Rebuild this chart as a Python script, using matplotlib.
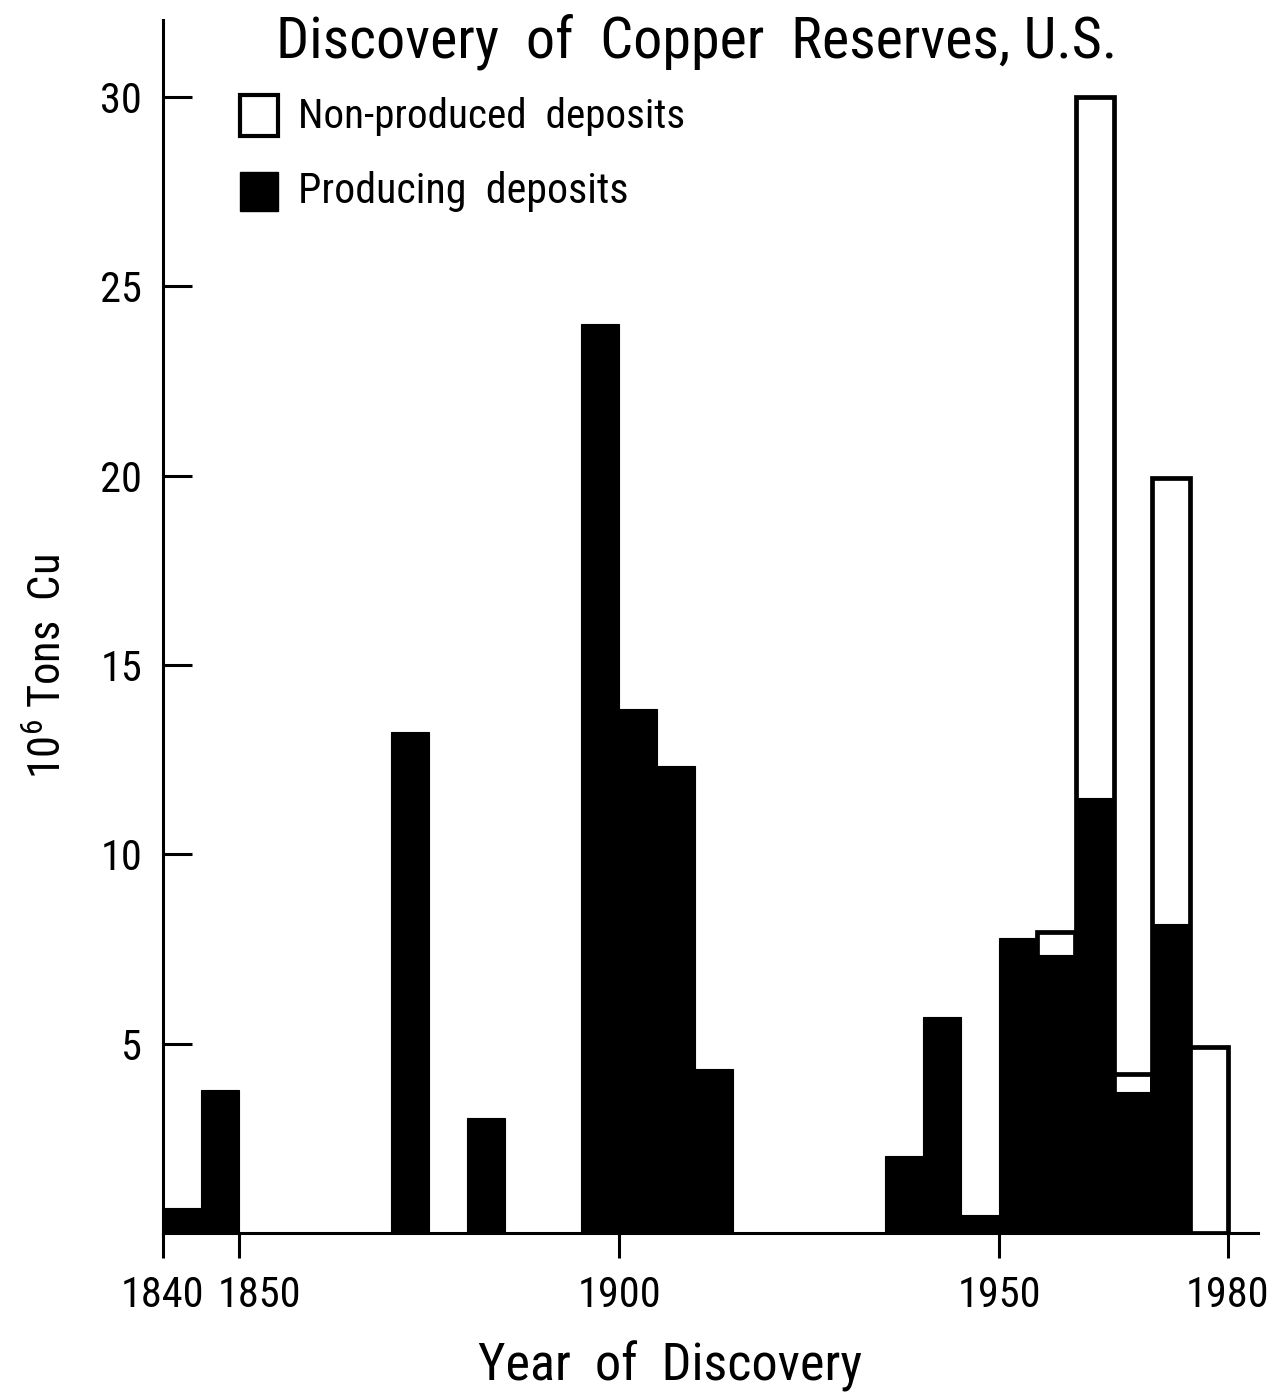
import matplotlib.pyplot as plt
from matplotlib import font_manager
from matplotlib.patches import Rectangle
from matplotlib.transforms import ScaledTranslation

installed = {f.name for f in font_manager.fontManager.ttflist}
family = 'DejaVu Sans'
for cand in ['Liberation Sans Narrow', 'DejaVu Sans Condensed', 'Roboto Condensed',
             'Open Sans Condensed', 'Roboto', 'Noto Sans']:
    if cand in installed:
        family = cand
        break
plt.rcParams['font.family'] = [family, 'DejaVu Sans']
plt.rcParams['mathtext.fontset'] = 'custom'
plt.rcParams['mathtext.rm'] = family

# 5-year bins, start year of each bin
bin_start = [1840, 1845, 1870, 1880, 1895, 1900, 1905, 1910,
             1935, 1940, 1945, 1950, 1955, 1960, 1965, 1970, 1975]
producing = [0.65, 3.78, 13.23, 3.04, 24.0, 13.84, 12.33, 4.33,
             2.03, 5.70, 0.48, 7.79, 7.34, 11.49, 3.72, 8.16, 0.0]
non_produced = [0, 0, 0, 0, 0, 0, 0, 0,
                0, 0, 0, 0, 0.61, 18.51, 0.48, 11.78, 4.91]

xticks = [1840, 1850, 1900, 1950, 1980]
yticks = [5, 10, 15, 20, 25, 30]

W, H = 1278, 1396
fig = plt.figure(figsize=(W / 100, H / 100), dpi=100)
ax = fig.add_axes([163 / W, 1 - 1233 / H, (1258 - 163) / W, (1233 - 20) / H])

totals = [p + n for p, n in zip(producing, non_produced)]
for x, t, n in zip(bin_start, totals, non_produced):
    if n > 0:
        ax.bar(x, t, width=5, align='edge', color='white',
               edgecolor='black', linewidth=3.4, zorder=2)
ax.bar(bin_start, producing, width=5, align='edge', color='black',
       edgecolor='black', linewidth=0.8, zorder=3)

ax.set_xlim(1840, 1984)
ax.set_ylim(0, 32.03)
ax.spines['top'].set_visible(False)
ax.spines['right'].set_visible(False)
for s in ['left', 'bottom']:
    ax.spines[s].set_linewidth(2.2)
    ax.spines[s].set_zorder(4)

ax.set_xticks(xticks)
ax.set_yticks(yticks)
ax.tick_params(axis='y', direction='in', length=21, width=2.2, labelsize=28, pad=15)
ax.tick_params(axis='x', direction='out', length=18, width=2.2, labelsize=28, pad=12)

# the 1850 label sits a little to the right of its tick in the original
lab1850 = ax.get_xticklabels()[1]
lab1850.set_transform(lab1850.get_transform() + ScaledTranslation(0.2, 0, fig.dpi_scale_trans))

title = fig.text(697 / W, 1 - 42 / H, 'Discovery  of  Copper  Reserves, U.S.',
                 fontsize=40, ha='center', va='center')
xlab = fig.text(670 / W, 1 - 1366 / H, 'Year  of  Discovery', fontsize=33,
                ha='center', va='center')
ylab = fig.text(48 / W, 1 - 667 / H, '10$^6$ Tons  Cu', fontsize=33,
                ha='center', va='center', rotation=90)

fig.patches.append(Rectangle((240 / W, 1 - 136 / H), 38 / W, 41 / H,
                             transform=fig.transFigure, facecolor='white',
                             edgecolor='black', linewidth=3))
fig.patches.append(Rectangle((240 / W, 1 - 211 / H), 38 / W, 39 / H,
                             transform=fig.transFigure, facecolor='black',
                             edgecolor='black', linewidth=1))
leg1 = fig.text(298 / W, 1 - 116 / H, 'Non-produced  deposits', fontsize=31,
                ha='left', va='center')
leg2 = fig.text(298 / W, 1 - 191 / H, 'Producing  deposits', fontsize=31,
                ha='left', va='center')

# scale text sizes so their widths match the original lettering
fig.canvas.draw()
r = fig.canvas.get_renderer()
targets = [(title, 841, 'w'), (xlab, 384, 'w'), (ylab, 225, 'h'),
           (leg1, 387, 'w'), (leg2, 330, 'w')]
for t, size, dim in targets:
    bb = t.get_window_extent(r)
    cur = bb.width if dim == 'w' else bb.height
    t.set_fontsize(t.get_fontsize() * size / cur)

bb = ax.get_xticklabels()[2].get_window_extent(r)
tick_fs = 28 * 84 / bb.width
ax.tick_params(axis='both', labelsize=tick_fs)

fig.savefig('out.png', dpi=100)
